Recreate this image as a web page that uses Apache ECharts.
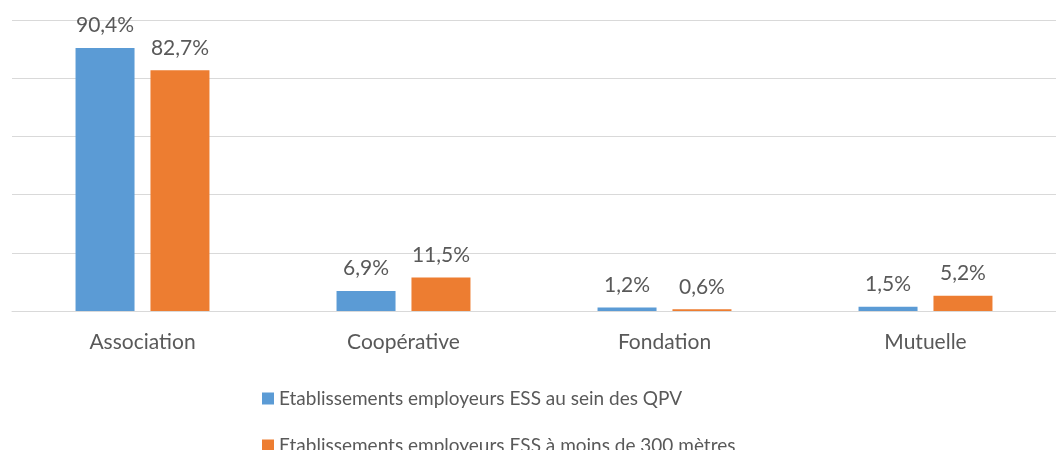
<!DOCTYPE html>
<html>
<head>
<meta charset="utf-8">
<style>
  html, body { margin: 0; padding: 0; background: #fff; }
  #chart { width: 1056px; height: 450px; }
</style>
<script src="https://cdn.jsdelivr.net/npm/echarts@6/dist/echarts.min.js"></script>
</head>
<body>
<div id="chart"></div>
<script>
const categories = ['Association', 'Coopérative', 'Fondation', 'Mutuelle']
const seriesNames = [
  'Etablissements employeurs ESS au sein des QPV',
  'Etablissements employeurs ESS à moins de 300 mètres'
]
const qpvValues = [90.4, 6.9, 1.2, 1.5]
const near300Values = [82.7, 11.5, 0.6, 5.2]

const textColor = '#595959'
const fontFamily = 'Lato, "Open Sans", sans-serif'

function pctLabel(p) {
  return String(p.value.toFixed(1)).replace('.', ',') + '%'
}

// one legend per row, stacked like the original
function legendRow(name, top) {
  return {
    left: 257,
    top: top,
    itemWidth: 12,
    itemHeight: 12,
    itemGap: 0,
    icon: 'rect',
    textStyle: { color: textColor, fontSize: 19, fontFamily: fontFamily },
    data: [name]
  }
}

const chart = echarts.init(document.getElementById('chart'))

chart.setOption({
  animation: false,
  textStyle: { fontFamily: fontFamily },
  grid: {
    left: 12,
    right: 0,
    top: 20,
    bottom: 139
  },
  legend: [legendRow(seriesNames[0], 384), legendRow(seriesNames[1], 431)],
  xAxis: {
    type: 'category',
    data: categories,
    axisLine: { show: true, lineStyle: { color: '#d9d9d9', width: 1 } },
    axisTick: { show: false },
    axisLabel: { color: textColor, fontSize: 21, margin: 21 }
  },
  yAxis: {
    type: 'value',
    min: 0,
    max: 100,
    interval: 20,
    axisLabel: { show: false },
    axisLine: { show: false },
    axisTick: { show: false },
    splitLine: { lineStyle: { color: '#d9d9d9', width: 1 } }
  },
  series: [
    {
      name: seriesNames[0],
      type: 'bar',
      data: qpvValues,
      barWidth: 59,
      barGap: '27%',
      itemStyle: { color: '#5B9BD5' },
      label: {
        show: true,
        position: 'top',
        distance: 12,
        color: textColor,
        fontSize: 21,
        formatter: pctLabel
      }
    },
    {
      name: seriesNames[1],
      type: 'bar',
      data: near300Values,
      barWidth: 59,
      barGap: '27%',
      itemStyle: { color: '#ED7D31' },
      label: {
        show: true,
        position: 'top',
        distance: 12,
        color: textColor,
        fontSize: 21,
        formatter: pctLabel
      }
    }
  ]
})
</script>
</body>
</html>
